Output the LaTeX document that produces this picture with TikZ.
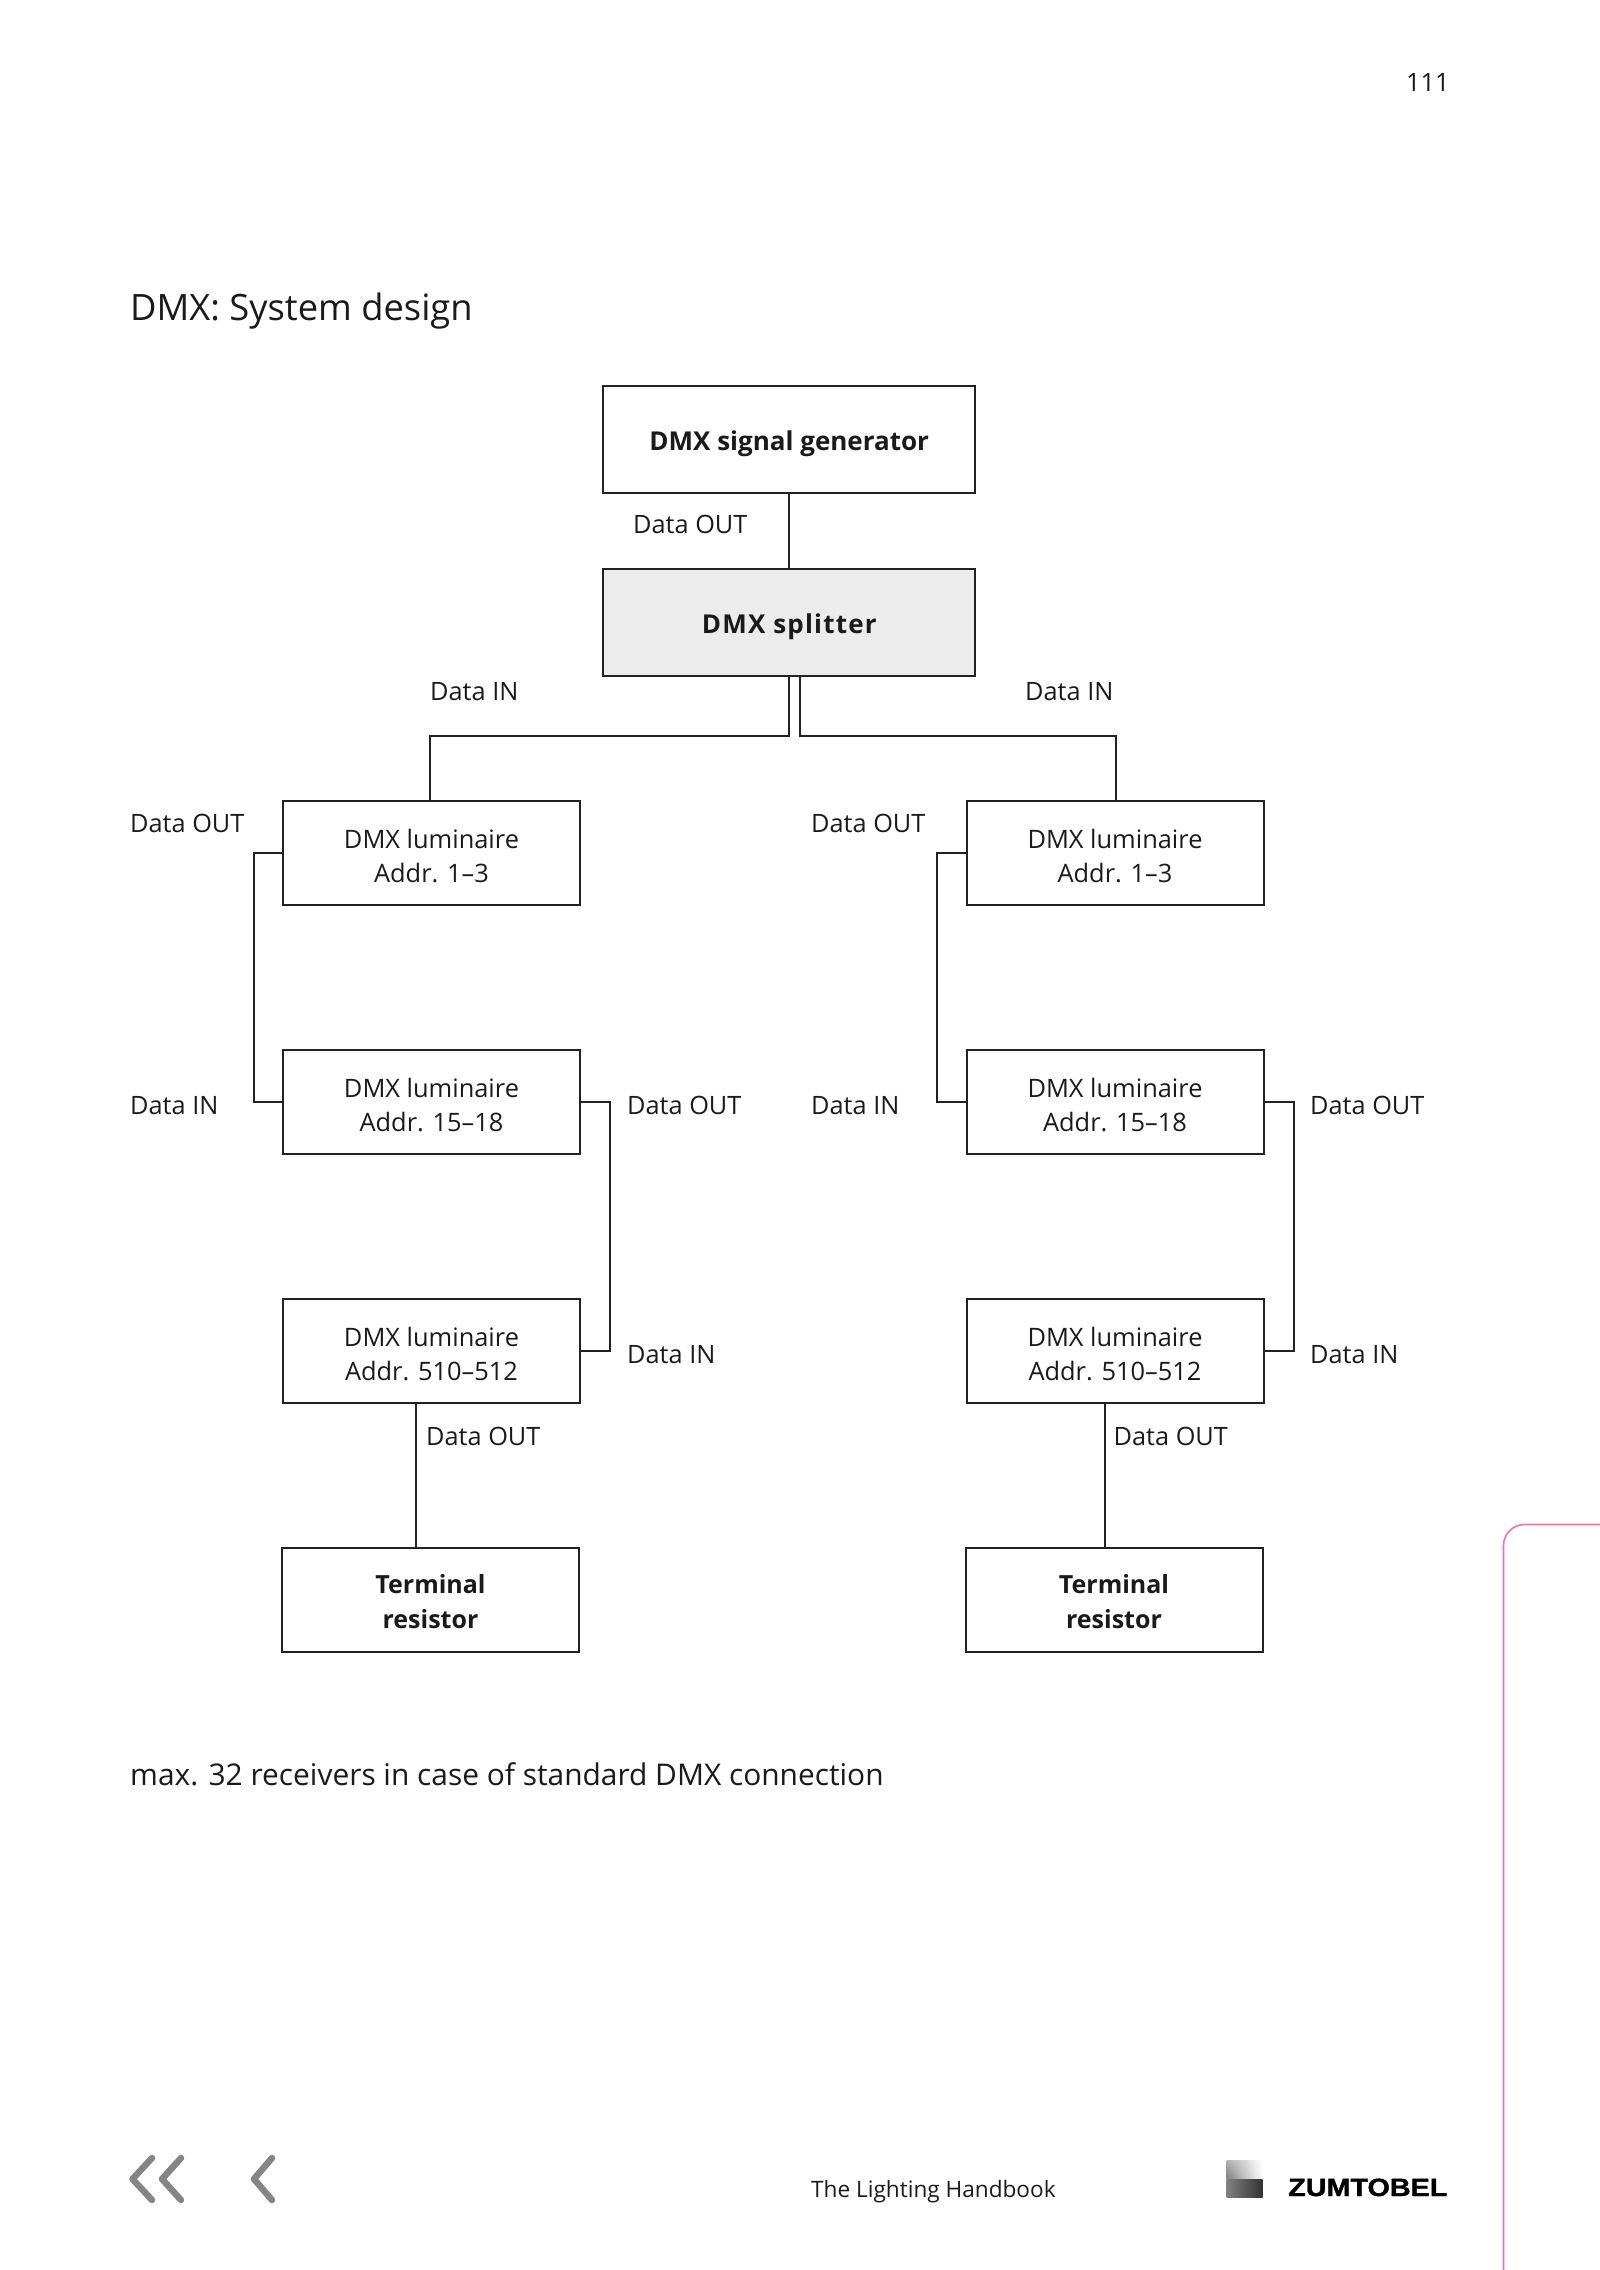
\documentclass[tikz,border=0pt]{standalone}
\usepackage{fontspec}
\usetikzlibrary{shadings}
\setmainfont{Open Sans}
\newfontfamily\logofont[BoldFeatures={FakeBold=1.2}]{Liberation Sans}
\definecolor{inkline}{HTML}{222222}
\definecolor{inktext}{HTML}{1A1A1A}
\definecolor{splitfill}{HTML}{ECECEC}
\definecolor{navgray}{HTML}{858585}
\definecolor{tabpink}{HTML}{F56FAE}
\tikzset{
  conn/.style={draw=inkline,line width=2pt},
  box/.style={draw=inkline,line width=2pt,inner sep=0pt},
  genbox/.style={box,minimum width=372pt,minimum height=107.5pt,align=center,text=inktext,
    font=\fontsize{26}{34.5}\selectfont\bfseries,execute at begin node={\rule{0pt}{29pt}}},
  lumbox/.style={box,minimum width=297pt,minimum height=104pt},
  lumtext/.style={align=center,inner sep=0pt,text=inktext,font=\fontsize{25.4}{34.5}\selectfont},
  termtext/.style={align=center,inner sep=0pt,text=inktext,font=\fontsize{25}{34.5}\selectfont\bfseries},
  lab/.style={anchor=base west,inner sep=0pt,text=inktext,font=\fontsize{25.3}{30}\selectfont},
  chev/.style={draw=navgray,line width=6.5pt,line cap=round,line join=round},
}
\begin{document}
\begin{tikzpicture}[x=1pt,y=-1pt]
\useasboundingbox (0,0) rectangle (1600,2270);
% page furniture
\node[lab] (pg) at (1406,91) {111};
\node[lab,font=\fontsize{36.3}{40}\selectfont] (title) at (130,320) {DMX: System design};
\node[lab,font=\fontsize{29.9}{40}\selectfont] (note) at (130,1785) {max. 32 receivers in case of standard DMX connection};
\node[lab,font=\fontsize{22.6}{28}\selectfont] (book) at (811,2197) {The Lighting Handbook};
% boxes
\node[genbox] (gen) at (789.25,439.25) {DMX signal generator};
\node[genbox,fill=splitfill] (split) at (789.25,622.25) {\addfontfeature{LetterSpace=4.6}DMX splitter};
\node[lumbox] (la) at (431.5,853) {};
\node[lumbox] (lb) at (431.5,1102) {};
\node[lumbox] (lc) at (431.5,1351) {};
\node[lumbox] (lt) at (430.5,1600) {};
\node[lumbox] (ra) at (1115,853) {};
\node[lumbox] (rb) at (1115,1102) {};
\node[lumbox] (rc) at (1115,1351) {};
\node[lumbox] (rt) at (1114,1600) {};
% box texts
\node[lumtext] (lat) at ([yshift=-3pt]la.center) {DMX luminaire\\Addr. 1–3};
\node[lumtext] (lbt) at ([yshift=-3pt]lb.center) {DMX luminaire\\Addr. 15–18};
\node[lumtext] (lct) at ([yshift=-3pt]lc.center) {DMX luminaire\\Addr. 510–512};
\node[termtext] (ltt) at ([yshift=-1.5pt]lt.center) {Terminal\\resistor};
\node[lumtext] (rat) at ([yshift=-3pt]ra.center) {DMX luminaire\\Addr. 1–3};
\node[lumtext] (rbt) at ([yshift=-3pt]rb.center) {DMX luminaire\\Addr. 15–18};
\node[lumtext] (rct) at ([yshift=-3pt]rc.center) {DMX luminaire\\Addr. 510–512};
\node[termtext] (rtt) at ([yshift=-1.5pt]rt.center) {Terminal\\resistor};
% connectors
\draw[conn] ([xshift=-0.7pt]gen.south) -- ([xshift=-0.7pt]split.north);
\draw[conn] ([xshift=-0.7pt]split.south) -- ++(0,59) -| ([xshift=-1.6pt]la.north);
\draw[conn] ([xshift=10.8pt]split.south) -- ++(0,59) -| ([xshift=1.2pt]ra.north);
\draw[conn] (la.west) -- ++(-28.5,0) |- (lb.west);
\draw[conn] (ra.west) -- ++(-28.5,0) |- (rb.west);
\draw[conn] (lb.east) -- ++(29,0) |- (lc.east);
\draw[conn] (rb.east) -- ++(29,0) |- (rc.east);
\draw[conn] ([xshift=-15.5pt]lc.south) -- ([xshift=-15.5pt]lc.south |- lt.north);
\draw[conn] ([xshift=-10.2pt]rc.south) -- ([xshift=-10.2pt]rc.south |- rt.north);
% labels
\node[lab] (l1) at (633,533) {Data OUT};
\node[lab] (l2) at (430,700) {Data IN};
\node[lab] (l3) at (1025,700) {Data IN};
\node[lab] (l4) at (130,832) {Data OUT};
\node[lab] (l5) at (811,832) {Data OUT};
\node[lab] (l6) at (130,1114) {Data IN};
\node[lab] (l7) at (811,1114) {Data IN};
\node[lab] (l8) at (627,1114) {Data OUT};
\node[lab] (l9) at (1310,1114) {Data OUT};
\node[lab] (l10) at (627,1363) {Data IN};
\node[lab] (l11) at (1310,1363) {Data IN};
\node[lab] (l12) at (426,1445) {Data OUT};
\node[lab] (l13) at (1113.5,1445) {Data OUT};
% navigation chevrons
\draw[chev] (152,2158) -- (132.5,2179) -- (152,2200);
\draw[chev] (181,2158) -- (162,2179) -- (181,2200);
\draw[chev] (272,2158) -- (254,2179) -- (272,2200);
% pink tab
\draw[tabpink,line width=1.6pt,rounded corners=21pt] (1503.5,2272) -- (1503.5,1524.5) -- (1602,1524.5);
% logo
\shade[upper left=gray!60,upper right=white,lower left=gray,lower right=white] (1226.7,2179) rectangle (1262.7,2160);
\shade[left color=gray,right color=black!80] (1226.7,2197) rectangle (1262.7,2179);
\node[anchor=base west,inner sep=0pt,text=black] (logo) at (1288,2196) {\scalebox{1.15}[1]{\logofont\bfseries\fontsize{25}{30}\selectfont ZUMTOBEL}};
\end{tikzpicture}
\end{document}
